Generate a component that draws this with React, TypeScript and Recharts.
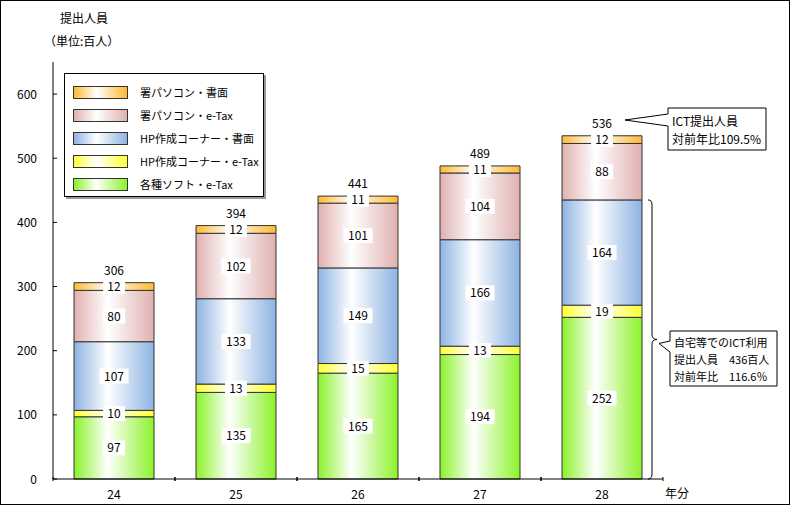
import { BarChart, Bar, XAxis, YAxis, LabelList } from 'recharts';

const years = ['24', '25', '26', '27', '28'];
const softEtax = [97, 135, 165, 194, 252];
const hpEtax = [10, 13, 15, 13, 19];
const hpPaper = [107, 133, 149, 166, 164];
const taxPcEtax = [80, 102, 101, 104, 88];
const taxPcPaper = [12, 12, 11, 11, 12];
const totals = [306, 394, 441, 489, 536];
const yTicks = [0, 100, 200, 300, 400, 500, 600];

// stacking order bottom -> top
const series = [
  { key: 'soft', name: '各種ソフト・e-Tax', values: softEtax, color: '#8cf22a' },
  { key: 'hpEtax', name: 'HP作成コーナー・e-Tax', values: hpEtax, color: '#ffff33' },
  { key: 'hpPaper', name: 'HP作成コーナー・書面', values: hpPaper, color: '#8db3e2' },
  { key: 'pcEtax', name: '署パソコン・e-Tax', values: taxPcEtax, color: '#e0b0b0' },
  { key: 'pcPaper', name: '署パソコン・書面', values: taxPcPaper, color: '#ffb933' },
];

const data = years.map((year, i) => {
  const row: Record<string, string | number> = { year };
  series.forEach(s => { row[s.key] = s.values[i]; });
  return row;
});

const font = "'Noto Sans CJK JP', 'Noto Sans', sans-serif";
const W = 791;
const H = 508;
const M = { top: 62, right: 128, bottom: 9, left: 8 };
const yAxisW = 45;
const xAxisH = 20;
const yMax = 650;
const plotTop = M.top;
const plotBottom = H - M.bottom - xAxisH;
const toY = (v: number) => plotTop + (plotBottom - plotTop) * (1 - v / yMax);

const SegLabel = (p: any) => {
  const { x, y, width, height, value } = p;
  const cx = Number(x) + Number(width) / 2;
  const cy = Number(y) + Number(height) / 2;
  const w = String(value).length * 7 + 8;
  return (
    <g>
      <rect x={cx - w / 2} y={cy - 7.5} width={w} height={15} fill="#fff" />
      <text x={cx} y={cy} dy={4.5} textAnchor="middle" fontSize={12} fontFamily={font} fill="#000">{value}</text>
    </g>
  );
};

const TotalLabel = (p: any) => {
  const { x, y, width, index } = p;
  return (
    <text x={Number(x) + Number(width) / 2} y={Number(y) - 8} textAnchor="middle" fontSize={12} fontFamily={font} fill="#000">
      {totals[index]}
    </text>
  );
};

const XTick = (p: any) => {
  const { x, y, payload } = p;
  const half = (W - M.left - yAxisW - M.right) / years.length / 2;
  return (
    <g>
      <line x1={x - half} x2={x - half} y1={y} y2={y - 4} stroke="#000" />
      <line x1={x + half} x2={x + half} y1={y} y2={y - 4} stroke="#000" />
      <text x={x} y={y + 18} textAnchor="middle" fontSize={12} fontFamily={font} fill="#000">{payload.value}</text>
    </g>
  );
};

const YTick = (p: any) => {
  const { x, y, payload } = p;
  return (
    <g>
      <line x1={x + 16} x2={x + 20} y1={y} y2={y} stroke="#000" />
      <text x={x} y={y} dy={4.5} textAnchor="end" fontSize={12} fontFamily={font} fill="#000">{payload.value}</text>
    </g>
  );
};

const legendOrder = [...series].reverse();

export default function App() {
  const braceTop = toY(softEtax[4] + hpEtax[4] + hpPaper[4]);
  const braceBot = toY(0);
  const mid = (braceTop + braceBot) / 2;
  const bx = 652;
  return (
    <div style={{ position: 'absolute', left: 0, top: 0, width: W, height: H, background: '#fff', fontFamily: font }}>
      <div style={{ position: 'absolute', left: 0, top: 0, width: 790, height: 505, border: '1px solid #000', boxSizing: 'border-box' }} />
      <div style={{ position: 'absolute', left: 60, top: 9, fontSize: 12, color: '#000' }}>提出人員</div>
      <div style={{ position: 'absolute', left: 44, top: 32, fontSize: 12, color: '#000' }}>（単位:百人）</div>
      <div style={{ position: 'absolute', left: 665, top: 484, fontSize: 12, color: '#000' }}>年分</div>
      <BarChart width={W} height={H} data={data} margin={M} barSize={80} style={{ position: 'absolute', left: 0, top: 0 }}>
        <defs>
          {series.map(s => (
            <linearGradient key={s.key} id={`g-${s.key}`} x1="0" y1="0" x2="1" y2="0">
              <stop offset="0%" stopColor={s.color} />
              <stop offset="42%" stopColor="#ffffff" />
              <stop offset="100%" stopColor={s.color} />
            </linearGradient>
          ))}
        </defs>
        <XAxis dataKey="year" height={xAxisH} axisLine={{ stroke: '#000' }} tickLine={false} tickSize={0} tick={<XTick />} interval={0} />
        <XAxis xAxisId="top" dataKey="year" orientation="top" height={0} tick={false} tickLine={false} axisLine={{ stroke: '#000' }} />
        <YAxis width={yAxisW} domain={[0, yMax]} ticks={yTicks} axisLine={{ stroke: '#000' }} tickLine={false} tickSize={0} tickMargin={16} tick={<YTick />} interval={0} />
        <YAxis yAxisId="right" orientation="right" width={0} tick={false} tickLine={false} axisLine={{ stroke: '#000' }} />
        {series.map((s, i) => (
          <Bar key={s.key} dataKey={s.key} name={s.name} stackId="a" fill={`url(#g-${s.key})`} stroke="#333" strokeWidth={1} isAnimationActive={false}>
            <LabelList dataKey={s.key} content={<SegLabel />} />
            {i === series.length - 1 && <LabelList dataKey={s.key} content={<TotalLabel />} />}
          </Bar>
        ))}
      </BarChart>
      <div style={{ position: 'absolute', left: 64, top: 73, width: 200, height: 124, border: '1px solid #000', background: '#fff', boxSizing: 'border-box', boxShadow: '2px 2px 0 #999' }}>
        {legendOrder.map((s, i) => (
          <div key={s.key} style={{ position: 'absolute', left: 8, top: 10 + i * 23, display: 'flex', alignItems: 'center' }}>
            <div style={{ width: 53, height: 11, border: '1px solid #333', background: `linear-gradient(to right, ${s.color} 0%, #fff 42%, ${s.color} 100%)` }} />
            <span style={{ marginLeft: 12, fontSize: 11, color: '#000', whiteSpace: 'nowrap' }}>{s.name}</span>
          </div>
        ))}
      </div>
      <svg width={W} height={H} style={{ position: 'absolute', left: 0, top: 0, pointerEvents: 'none' }}>
        <path d="M668,108 H766 V150 H668 V126 L625,120 L668,114 Z" fill="#fff" stroke="#000" strokeWidth={1} />
        <text x={672} y={126} fontSize={12} fontFamily={font} fill="#000">ICT提出人員</text>
        <text x={672} y={144} fontSize={12} fontFamily={font} fill="#000">対前年比109.5%</text>
        <path
          d={`M${bx - 4},${braceTop} Q${bx},${braceTop} ${bx},${braceTop + 5} V${mid - 5} Q${bx},${mid} ${bx + 5},${mid} Q${bx},${mid} ${bx},${mid + 5} V${braceBot - 5} Q${bx},${braceBot} ${bx - 4},${braceBot}`}
          fill="none" stroke="#000" strokeWidth={1}
        />
        <path d={`M670,331 H777 V386 H670 V352 L659,${mid + 4} L670,341 Z`} fill="#fff" stroke="#000" strokeWidth={1} />
        <text x={674} y={347} fontSize={11} fontFamily={font} fill="#000">自宅等でのICT利用</text>
        <text x={674} y={364} fontSize={11} fontFamily={font} fill="#000">提出人員　436百人</text>
        <text x={674} y={381} fontSize={11} fontFamily={font} fill="#000">対前年比　116.6％</text>
      </svg>
    </div>
  );
}
